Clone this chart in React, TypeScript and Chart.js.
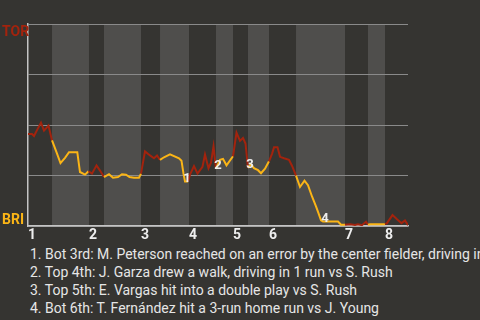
import React, { useEffect, useRef } from "react";
import { Chart, registerables } from "chart.js";

Chart.register(...registerables);

// Game progress (0-100) of each play and TOR win probability (%) after it
const progress = [
  0, 1.05, 1.58, 2.37, 3.42, 4.21, 5.39, 6.32,
  7.37, 8.55, 9.74, 10.79, 12.97, 13.68, 15.0, 15.92,
  16.84, 18.03, 18.95, 20.0,
  21.32, 22.37, 23.68, 24.74, 25.79, 26.71, 27.89, 29.21, 29.74,
  30.79, 32.11, 33.16, 33.95, 34.74,
  35.79, 37.37, 39.74, 40.39, 40.92, 41.32, 42.11,
  42.63, 43.68, 44.61, 45.92, 46.58, 47.5, 48.16, 48.82, 49.47,
  50.53, 51.32, 52.24, 53.95,
  54.87, 55.79, 56.58, 57.24, 57.89,
  58.68, 59.47, 60.53, 61.32, 62.37, 63.42,
  64.21, 64.74, 65.66, 66.32, 67.37, 68.68, 69.47, 70.53,
  71.58, 72.76, 73.68, 74.74, 75.79, 76.32, 77.11, 77.63, 81.58, 82.37, 83.42,
  84.74, 86.05, 86.84, 87.89, 88.95, 89.47,
  90.0, 93.95,
  94.47, 95.92, 97.11, 98.29, 99.21, 100,
];
const torWinProb = [
  45.6, 45.6, 44.6, 47.5, 51.2, 47.3, 49.8, 42.4,
  37.3, 31.2, 33.8, 36.6, 36.6, 26.8, 25.5, 27.2,
  26.0, 30.1, 27.5, 24.3,
  25.7, 24.0, 24.3, 25.7, 25.5, 24.3, 24.0, 24.0, 26.0,
  37.0, 35.0, 33.6, 35.0, 32.8,
  34.1, 35.5, 33.6, 32.4, 26.0, 22.1, 22.1,
  25.5, 29.7, 26.0, 29.4, 35.5, 28.7, 31.4, 39.5, 28.4,
  32.8, 33.3, 30.1, 34.6,
  46.3, 42.2, 43.6, 40.9, 28.9,
  30.6, 28.7, 27.7, 26.2, 28.4, 32.1,
  35.8, 39.0, 39.0, 34.3, 33.6, 32.8, 29.9, 25.0,
  19.4, 22.5, 20.3, 14.7, 9.8, 7.1, 2.9, 2.3, 2.3, 0.7, 0.7,
  1.0, 0.6, 1.0, 0.5, 2.2, 0.7,
  1.0, 1.0,
  1.5, 5.5, 3.4, 1.5, 2.8, 0.5,
];

// Start of each half inning (top 1, bot 1, top 2, ...) in game progress
const halfInningStarts = [
  0, 6.32, 16.05, 20.0, 29.74, 34.74, 42.37, 49.47, 53.95, 57.89, 63.42,
  70.53, 83.42, 89.47, 93.95,
];
const inningLabels = ["1", "2", "3", "4", "5", "6", "7", "8"];

// Key events: game progress of the play
const eventProgress = [41.32, 49.47, 57.89, 77.63];
const eventLabels = ["1", "2", "3", "4"];
const eventTexts = [
  "1. Bot 3rd: M. Peterson reached on an error by the center fielder, driving in 1 run vs J. Young",
  "2. Top 4th: J. Garza drew a walk, driving in 1 run vs S. Rush",
  "3. Top 5th: E. Vargas hit into a double play vs S. Rush",
  "4. Bot 6th: T. Fernández hit a 3-run home run vs J. Young",
];

const teamTop = "TOR";
const teamBottom = "BRI";

const BG = "#353431";
const BAND = "#4f4e4c";
const RED = "#a3230d";
const YELLOW = "#fbb516";
const FONT = "Roboto, 'Noto Sans', sans-serif";

function halfIndexAt(x: number): number {
  let k = 0;
  for (let i = 0; i < halfInningStarts.length; i++) {
    if (x >= halfInningStarts[i]) k = i;
  }
  return k;
}

export default function App() {
  const ref = useRef<HTMLCanvasElement | null>(null);

  useEffect(() => {
    document.body.style.margin = "0";
    document.body.style.background = BG;
    const canvas = ref.current;
    if (!canvas) return;

    const bandsPlugin = {
      id: "bands",
      beforeDraw(chart: any) {
        const { ctx, chartArea, scales } = chart;
        ctx.save();
        ctx.fillStyle = BG;
        ctx.fillRect(0, 0, chart.width, chart.height);
        ctx.fillStyle = BAND;
        for (let i = 1; i < halfInningStarts.length; i += 2) {
          const x0 = scales.x.getPixelForValue(halfInningStarts[i]);
          const end = i + 1 < halfInningStarts.length ? halfInningStarts[i + 1] : 100;
          const x1 = scales.x.getPixelForValue(end);
          ctx.fillRect(x0, chartArea.top, x1 - x0, chartArea.bottom - chartArea.top);
        }
        ctx.restore();
      },
      afterDraw(chart: any) {
        const { ctx, chartArea, scales } = chart;
        ctx.save();
        ctx.font = `bold 14px ${FONT}`;
        ctx.textAlign = "left";
        ctx.textBaseline = "alphabetic";
        ctx.fillStyle = RED;
        ctx.fillText(teamTop, 2, chartArea.top + 12);
        ctx.fillStyle = YELLOW;
        ctx.fillText(teamBottom, 2, chartArea.bottom - 2);

        ctx.font = `bold 13px ${FONT}`;
        ctx.textAlign = "center";
        ctx.textBaseline = "middle";
        ctx.fillStyle = "#eeeeee";
        eventProgress.forEach((p, i) => {
          let best = 0;
          for (let j = 0; j < progress.length; j++) {
            if (Math.abs(progress[j] - p) < Math.abs(progress[best] - p)) best = j;
          }
          const px = scales.x.getPixelForValue(progress[best]);
          const py = scales.y.getPixelForValue(torWinProb[best]);
          ctx.fillText(eventLabels[i], px + 2, py - 3);
        });
        ctx.restore();
      },
    };

    const chart = new Chart(canvas, {
      type: "line",
      data: {
        datasets: [
          {
            data: progress.map((x, i) => ({ x, y: torWinProb[i] })),
            borderWidth: 2,
            pointRadius: 0,
            tension: 0,
            borderColor: YELLOW,
            segment: {
              borderColor: (c: any) => {
                const mid = (c.p0.parsed.x + c.p1.parsed.x) / 2;
                return halfIndexAt(mid) % 2 === 0 ? RED : YELLOW;
              },
            },
          },
        ],
      },
      options: {
        animation: false,
        responsive: false,
        layout: { padding: { left: 28, top: 24, right: 72, bottom: 0 } },
        plugins: { legend: { display: false }, tooltip: { enabled: false } },
        scales: {
          x: {
            type: "linear",
            min: 0,
            max: 100,
            grid: { display: false, drawTicks: false },
            border: { display: true, color: "#c4c4c4", width: 1.5 },
            afterBuildTicks: (axis: any) => {
              axis.ticks = halfInningStarts
                .filter((_, i) => i % 2 === 0)
                .map((v) => ({ value: v }));
            },
            ticks: {
              autoSkip: false,
              maxRotation: 0,
              minRotation: 0,
              align: "start",
              padding: 1,
              color: "#eeeeee",
              font: { family: FONT, size: 14, weight: "bold" },
              callback: (_v: any, i: number) => inningLabels[i],
            },
          },
          y: {
            min: 0,
            max: 100,
            grid: { color: "#8a8a8a", drawTicks: false, lineWidth: 1 },
            border: { display: true, color: "#c4c4c4", width: 1.5 },
            ticks: { display: false, stepSize: 25 },
          },
        },
      },
      plugins: [bandsPlugin],
    });
    return () => chart.destroy();
  }, []);

  return (
    <div style={{ width: 480, height: 320, overflow: "hidden", background: BG }}>
      <canvas ref={ref} width={480} height={245} style={{ display: "block" }} />
      <div
        style={{
          paddingLeft: 30,
          fontFamily: FONT,
          fontSize: 14,
          lineHeight: "18px",
          color: "#e6e6e6",
          whiteSpace: "nowrap",
          overflow: "hidden",
        }}
      >
        {eventTexts.map((t, i) => (
          <div key={i}>{t}</div>
        ))}
      </div>
    </div>
  );
}
